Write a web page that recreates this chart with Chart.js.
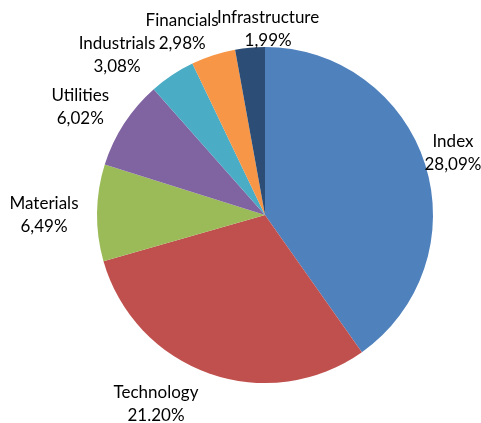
<!DOCTYPE html>
<html>
<head>
<meta charset="utf-8">
<script src="https://cdn.jsdelivr.net/npm/chart.js@4"></script>
<style>
html,body{margin:0;padding:0;background:#fff;}
#wrap{width:481px;height:423px;}
</style>
</head>
<body>
<div id="wrap"><canvas id="c" width="481" height="423"></canvas></div>
<script>
const categories = ["Index","Technology","Materials","Utilities","Industrials","Financials","Infrastructure"];
const values = [28.09, 21.20, 6.49, 6.02, 3.08, 2.98, 1.99];
const valueLabels = ["28,09%","21.20%","6,49%","6,02%","3,08%","2,98%","1,99%"];
const colors = ["#4F81BD","#C0504D","#9BBB59","#8064A2","#4BACC6","#F79646","#2C4D75"];

// label placement: [angle shift in degrees from slice middle, extra distance beyond radius]
const labelPlacement = [[-0.7,30],[10.6,50],[-0.8,53],[-2.7,46],[-9.2,50],[-6.4,33],[6.1,18]];

const outsideLabels = {
  id:'outsideLabels',
  afterDatasetsDraw(chart){
    const ctx = chart.ctx;
    const meta = chart.getDatasetMeta(0);
    ctx.save();
    ctx.font = '17px Lato, "Open Sans", sans-serif';
    ctx.fillStyle = '#000';
    ctx.textAlign = 'center';
    ctx.textBaseline = 'middle';
    meta.data.forEach((arc, i) => {
      const p = arc.getProps(['x','y','startAngle','endAngle','outerRadius'], true);
      const mid = (p.startAngle + p.endAngle)/2 + labelPlacement[i][0]*Math.PI/180;
      const d = p.outerRadius + labelPlacement[i][1];
      const x = p.x + Math.cos(mid)*d;
      const y = p.y + Math.sin(mid)*d;
      ctx.fillText(chart.data.labels[i], x, y - 11.5);
      ctx.fillText(valueLabels[i], x, y + 11.5);
    });
    ctx.restore();
  }
};

new Chart(document.getElementById('c'), {
  type:'pie',
  data:{
    labels: categories,
    datasets:[{
      data: values,
      backgroundColor: colors,
      borderWidth:0
    }]
  },
  options:{
    responsive:false,
    animation:false,
    layout:{padding:{top:47,bottom:40,left:49,right:0}},
    plugins:{legend:{display:false},tooltip:{enabled:false}}
  },
  plugins:[outsideLabels]
});
</script>
</body>
</html>
